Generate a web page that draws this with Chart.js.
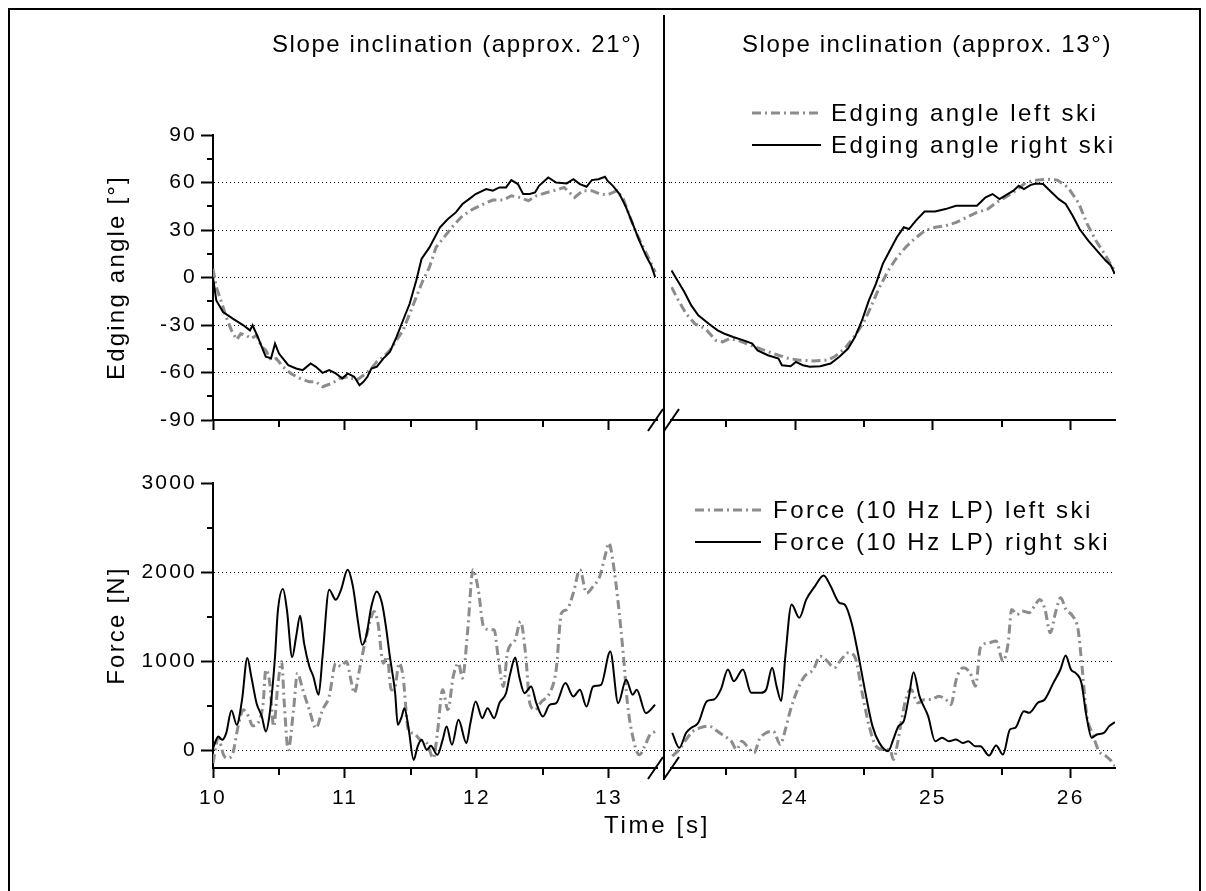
<!DOCTYPE html>
<html><head><meta charset="utf-8">
<script src="https://cdn.jsdelivr.net/npm/chart.js@4.4.1/dist/chart.umd.min.js"></script>
<style>
html,body{margin:0;padding:0;background:#fff;}
body{width:1206px;height:891px;position:relative;overflow:hidden;font-family:"Liberation Sans",Arial,sans-serif;}
.frame{position:absolute;left:8px;top:8px;width:1193px;height:900px;border:2px solid #000;box-sizing:border-box;}
.box{position:absolute;}
.txt{position:absolute;white-space:nowrap;font-size:24px;line-height:28px;color:#000;}
.leg{position:absolute;height:28px;}
.leg svg{position:absolute;left:0;top:0;}
.leg span{position:absolute;top:0;white-space:nowrap;font-size:24px;line-height:28px;letter-spacing:2.5px;color:#000;}
</style></head><body>
<div class="frame"></div>
<div class="box" style="left:0;top:0;width:700px;height:440px"><canvas id="cTL"></canvas></div>
<div class="box" style="left:0;top:440px;width:700px;height:400px"><canvas id="cBL"></canvas></div>
<div class="box" style="left:664px;top:0;width:542px;height:440px"><canvas id="cTR"></canvas></div>
<div class="box" style="left:664px;top:440px;width:542px;height:400px"><canvas id="cBR"></canvas></div>
<div id="annot"></div>
<script>
// ---------- ticks / categories ----------
const xMajorLeft = [10, 11, 12, 13];
const xMinorLeft = [10.5, 11.5, 12.5];
const xMajorRight = [24, 25, 26];
const xMinorRight = [23.5, 24.5, 25.5];
const xRangeLeft = [10, 13.364];
const xRangeRight = [23.10, 26.322];
const angleTicks = [-90, -60, -30, 0, 30, 60, 90];
const angleMinor = [-75, -45, -15, 15, 45, 75];
const angleGrid = [-60, -30, 0, 30, 60];
const angleRange = [-90, 90];
const forceTicks = [0, 1000, 2000, 3000];
const forceMinor = [500, 1500, 2500];
const forceGrid = [0, 1000, 2000];
const forceRange = [-200, 3000];

const panelTitles = ['Slope inclination (approx. 21°)', 'Slope inclination (approx. 13°)'];
const angleLabels = ['Edging angle left ski', 'Edging angle right ski'];
const forceLabels = ['Force (10 Hz LP) left ski', 'Force (10 Hz LP) right ski'];
const axisTitles = ['Edging angle [°]', 'Force [N]', 'Time [s]'];

// ---------- series: [time s, value] ----------
const angleLeftSeg1 = [[10.0,5.5],[10.025,-6],[10.06,-14.5],[10.10,-25],[10.14,-33.4],[10.18,-39.2],[10.21,-35.5],[10.25,-36.5],[10.29,-38.6],[10.33,-36.5],[10.37,-43.9],[10.40,-46],[10.44,-52.2],[10.48,-51.2],[10.53,-56.4],[10.59,-60.6],[10.66,-63.8],[10.73,-65.9],[10.78,-65.9],[10.83,-69],[10.90,-66.9],[10.96,-63.8],[11.02,-62.7],[11.09,-64.8],[11.14,-61.7],[11.19,-58.5],[11.24,-53.3],[11.29,-50.1],[11.34,-46],[11.39,-39.7],[11.44,-33.4],[11.49,-22.9],[11.54,-12.4],[11.59,-1.9],[11.64,6.5],[11.69,19.1],[11.74,24.3],[11.82,32.7],[11.89,39],[11.97,43.2],[12.05,46.4],[12.12,48.9],[12.20,48.9],[12.26,51.6],[12.32,50.6],[12.39,48.5],[12.45,51.6],[12.53,53.7],[12.60,55.2],[12.66,56.9],[12.74,50.6],[12.80,54.8],[12.87,54.8],[12.93,52.7],[12.99,52.2],[13.06,54.8],[13.11,49.5],[13.16,38],[13.21,27.5],[13.26,19.1],[13.31,10.7],[13.35,3.4]];
const angleRightSeg1 = [[10.00,0],[10.025,-14.5],[10.076,-21.8],[10.15,-26],[10.23,-30.2],[10.28,-33.4],[10.30,-30.2],[10.34,-37.6],[10.38,-46],[10.40,-50],[10.44,-51],[10.47,-41.8],[10.50,-48],[10.57,-55.4],[10.63,-57.5],[10.68,-58.5],[10.74,-54.3],[10.78,-56.4],[10.83,-60.2],[10.88,-58.5],[10.93,-60.6],[10.98,-63.8],[11.02,-60.6],[11.07,-62.7],[11.11,-68],[11.14,-65.9],[11.17,-62.7],[11.20,-57.5],[11.24,-56.4],[11.29,-51.2],[11.34,-47],[11.39,-37.6],[11.44,-27],[11.49,-16.6],[11.54,-1.9],[11.58,11.7],[11.64,19],[11.72,31.7],[11.78,36.9],[11.84,41.1],[11.89,46.4],[11.94,49.5],[11.99,52.7],[12.07,55.8],[12.12,54.8],[12.17,56.9],[12.22,56.9],[12.26,61.5],[12.31,59],[12.35,52.7],[12.40,52.7],[12.44,53.7],[12.47,57.9],[12.54,63.2],[12.60,60],[12.68,59.4],[12.73,62.1],[12.78,59],[12.83,57.3],[12.87,61.5],[12.92,62.1],[12.97,63.6],[12.99,61],[13.03,57.9],[13.08,52.7],[13.13,44.3],[13.18,33.8],[13.23,23.3],[13.28,13.8],[13.32,7.6],[13.35,0.2]];
const angleLeftSeg2 = [[23.104,-6.1],[23.147,-13.4],[23.210,-22.9],[23.273,-29.2],[23.349,-32.3],[23.425,-39.7],[23.475,-40.7],[23.526,-38.6],[23.589,-39.7],[23.678,-42.8],[23.779,-46],[23.880,-49.1],[23.956,-51.2],[24.032,-52.2],[24.133,-52.7],[24.234,-52.2],[24.285,-50.1],[24.361,-44.9],[24.436,-36.5],[24.500,-28.1],[24.55,-18.7],[24.613,-6.1],[24.677,4.4],[24.74,12.8],[24.803,19.1],[24.866,24.3],[24.942,29.6],[25.018,31.7],[25.094,32.7],[25.17,34.8],[25.246,38],[25.32,41.1],[25.398,43.2],[25.461,47.4],[25.525,50.6],[25.6,54.8],[25.676,60],[25.752,61.5],[25.828,62.1],[25.904,61.5],[25.98,56.9],[26.056,47.4],[26.12,33.8],[26.183,23.3],[26.246,14.9],[26.31,5.5],[26.32,2.3]];
const angleRightSeg2 = [[23.104,4.4],[23.147,-1.9],[23.197,-9.2],[23.247,-17.6],[23.298,-23.9],[23.374,-29.2],[23.438,-33.4],[23.488,-35.5],[23.551,-37.6],[23.627,-39.7],[23.690,-41.8],[23.728,-46],[23.803,-49.1],[23.880,-51.2],[23.905,-55.4],[23.968,-56],[24.006,-53.3],[24.057,-55.4],[24.107,-56.4],[24.183,-56],[24.258,-54.3],[24.322,-50.1],[24.385,-44.9],[24.435,-37.6],[24.486,-27.1],[24.536,-14.5],[24.587,-4],[24.637,8.6],[24.688,17],[24.739,25.4],[24.789,31.7],[24.827,30.6],[24.877,35.9],[24.940,41.7],[25.016,41.7],[25.092,43.2],[25.168,45.3],[25.244,45.3],[25.32,45.3],[25.383,50.6],[25.433,52.7],[25.484,49.5],[25.534,52.2],[25.585,54.8],[25.623,57.9],[25.661,55.8],[25.711,58.5],[25.749,59.4],[25.8,59],[25.85,54.8],[25.914,49.5],[25.964,46.4],[26.015,39],[26.065,30.6],[26.128,23.3],[26.191,17],[26.254,10.7],[26.292,7.6],[26.32,2.3]];

const forceLeftSeg1 = [[10.0,-146],[10.04,135],[10.08,-52],[10.11,-90],[10.15,-34],[10.19,266],[10.23,453],[10.27,378],[10.30,273],[10.34,303],[10.38,528],[10.40,903],[10.43,753],[10.46,266],[10.49,715],[10.52,996],[10.54,528],[10.57,4],[10.61,453],[10.64,865],[10.68,678],[10.73,453],[10.78,247],[10.83,453],[10.88,603],[10.93,977],[10.97,940],[11.01,996],[11.05,753],[11.07,640],[11.11,903],[11.15,1202],[11.19,1446],[11.22,1558],[11.25,1427],[11.29,977],[11.32,1052],[11.35,678],[11.38,715],[11.41,977],[11.44,828],[11.48,228],[11.52,191],[11.57,116],[11.62,79],[11.67,-90],[11.70,191],[11.74,678],[11.78,453],[11.82,828],[11.86,977],[11.89,809],[11.93,1352],[11.97,2026],[12.01,1801],[12.05,1389],[12.10,1352],[12.13,1352],[12.16,1052],[12.20,715],[12.23,1090],[12.29,1240],[12.33,1446],[12.37,1052],[12.40,528],[12.44,453],[12.49,547],[12.55,640],[12.60,903],[12.64,1539],[12.68,1577],[12.73,1764],[12.78,2026],[12.83,1764],[12.88,1839],[12.93,1951],[12.97,2176],[13.00,2326],[13.03,2120],[13.07,1652],[13.11,1052],[13.14,528],[13.18,154],[13.23,-52],[13.27,41],[13.31,172],[13.35,210]];
const forceRightSeg1 = [[10.0,22],[10.04,154],[10.07,116],[10.10,191],[10.14,446],[10.18,285],[10.22,565],[10.26,1034],[10.29,828],[10.33,528],[10.37,378],[10.40,210],[10.43,416],[10.47,1052],[10.49,1539],[10.53,1809],[10.56,1577],[10.60,1045],[10.63,1277],[10.66,1509],[10.69,1202],[10.73,940],[10.76,828],[10.80,622],[10.83,1052],[10.88,1801],[10.93,1689],[10.97,1801],[11.02,2026],[11.06,1839],[11.10,1427],[11.13,1183],[11.16,1277],[11.20,1614],[11.24,1783],[11.28,1652],[11.31,1389],[11.34,1052],[11.38,640],[11.40,285],[11.43,378],[11.45,472],[11.48,266],[11.52,-109],[11.55,41],[11.58,116],[11.62,4],[11.65,49],[11.70,-52],[11.74,116],[11.77,266],[11.81,60],[11.86,341],[11.92,79],[11.95,303],[11.99,547],[12.04,360],[12.08,472],[12.13,360],[12.17,528],[12.22,640],[12.25,846],[12.29,1041],[12.32,828],[12.36,640],[12.41,715],[12.45,528],[12.50,378],[12.55,509],[12.60,528],[12.67,753],[12.73,603],[12.78,678],[12.83,491],[12.88,715],[12.94,734],[13.01,1109],[13.07,528],[13.13,790],[13.18,622],[13.21,678],[13.28,416],[13.35,509]];
const forceLeftSeg2 = [[23.109,-67],[23.16,7],[23.21,120],[23.26,213],[23.311,251],[23.374,270],[23.437,213],[23.488,157],[23.538,101],[23.576,7],[23.614,101],[23.652,45],[23.703,-30],[23.741,120],[23.791,195],[23.842,213],[23.893,64],[23.93,232],[23.968,457],[24.019,682],[24.07,831],[24.133,906],[24.183,1056],[24.234,1000],[24.285,925],[24.335,1019],[24.386,1094],[24.437,1037],[24.487,644],[24.538,270],[24.588,45],[24.639,7],[24.689,7],[24.714,-105],[24.74,45],[24.77,307],[24.803,569],[24.841,682],[24.891,532],[24.942,569],[24.993,569],[25.043,607],[25.094,569],[25.132,513],[25.17,794],[25.22,925],[25.27,869],[25.31,719],[25.345,1150],[25.408,1206],[25.459,1225],[25.509,1000],[25.547,1206],[25.572,1580],[25.611,1524],[25.649,1562],[25.7,1543],[25.738,1618],[25.776,1693],[25.814,1580],[25.852,1318],[25.89,1543],[25.928,1711],[25.966,1580],[26.016,1505],[26.054,1356],[26.08,981],[26.118,382],[26.156,195],[26.206,-11],[26.257,-67],[26.307,-142],[26.322,-180]];
const forceRightSeg2 = [[23.109,195],[23.16,26],[23.21,195],[23.247,251],[23.298,307],[23.361,551],[23.412,569],[23.462,682],[23.513,906],[23.556,775],[23.622,906],[23.682,644],[23.753,644],[23.791,682],[23.834,925],[23.866,719],[23.9,551],[23.93,1056],[23.975,1637],[24.031,1487],[24.082,1693],[24.145,1843],[24.208,1962],[24.258,1843],[24.322,1655],[24.359,1637],[24.41,1431],[24.461,1056],[24.511,644],[24.562,270],[24.612,82],[24.676,-11],[24.713,120],[24.751,270],[24.789,326],[24.827,607],[24.86,876],[24.903,607],[24.966,382],[25.017,101],[25.067,139],[25.118,101],[25.168,120],[25.219,82],[25.257,101],[25.307,45],[25.345,45],[25.408,-60],[25.459,52],[25.509,-49],[25.56,232],[25.598,251],[25.661,438],[25.699,419],[25.762,532],[25.812,569],[25.875,756],[25.926,906],[25.964,1064],[26.002,906],[26.04,861],[26.078,756],[26.115,382],[26.153,139],[26.191,176],[26.242,195],[26.28,270],[26.322,315]];

// ---------- styles ----------
const GRAY = '#8c8c8c';
const DASH = [9, 4, 2, 4];
const FONT = "'Liberation Sans', Arial, sans-serif";
Chart.defaults.font.family = FONT;
Chart.defaults.font.size = 21;
Chart.defaults.color = '#000';

const toXY = arr => arr.map(p => ({x: p[0], y: p[1]}));

const spacingPlugin = {
  id: 'spacing',
  beforeDraw(chart) { chart.ctx.letterSpacing = '2.2px'; },
  afterDatasetsDraw(chart) { chart.ctx.letterSpacing = '1.8px'; }
};

const decorPlugin = {
  id: 'decor',
  afterDraw(chart, args, o) {
    const ctx = chart.ctx, a = chart.chartArea, xs = chart.scales.x, ys = chart.scales.y;
    ctx.save();
    ctx.strokeStyle = '#000';
    ctx.lineWidth = 2;
    ctx.setLineDash([]);
    (o.minorX || []).forEach(v => {
      const px = Math.round(xs.getPixelForValue(v));
      ctx.beginPath(); ctx.moveTo(px, a.bottom); ctx.lineTo(px, a.bottom + 7); ctx.stroke();
    });
    (o.minorY || []).forEach(v => {
      const py = Math.round(ys.getPixelForValue(v));
      ctx.beginPath(); ctx.moveTo(a.left, py); ctx.lineTo(a.left - 6, py); ctx.stroke();
    });
    if (o.breakMarks) {
      // continue dotted grid lines through the axis break
      ctx.lineWidth = 1;
      ctx.setLineDash([1, 3]);
      o.gridVals.forEach(v => {
        const py = Math.round(ys.getPixelForValue(v) - 0.5) + 0.5;
        ctx.beginPath(); ctx.moveTo(a.right, py); ctx.lineTo(a.right + 14, py); ctx.stroke();
      });
      ctx.setLineDash([]);
      ctx.lineWidth = 2;
      const dx = a.right + 7;
      ctx.beginPath(); ctx.moveTo(dx, o.divTop); ctx.lineTo(dx, o.divBottom); ctx.stroke();
      [a.right - 1.5, a.right + 14.5].forEach(cx => {
        ctx.beginPath(); ctx.moveTo(cx - 7.5, a.bottom + 11); ctx.lineTo(cx + 7.5, a.bottom - 11); ctx.stroke();
      });
    }
    ctx.restore();
  }
};

function makeChart(id, c) {
  const left = c.side === 'left';
  return new Chart(document.getElementById(id), {
    type: 'line',
    data: {
      datasets: [
        {label: c.labels[1], data: toXY(c.right), borderColor: '#000', borderWidth: 2, pointRadius: 0,
         tension: 0, cubicInterpolationMode: c.smooth ? 'monotone' : 'default', order: 0},
        {label: c.labels[0], data: toXY(c.left), borderColor: GRAY, borderWidth: 3, borderDash: DASH,
         borderCapStyle: 'butt', pointRadius: 0, tension: 0,
         cubicInterpolationMode: c.smooth ? 'monotone' : 'default', order: 1}
      ]
    },
    options: {
      responsive: true, maintainAspectRatio: false, animation: false, devicePixelRatio: 1,
      layout: {padding: c.padding},
      events: [],
      plugins: {
        legend: {display: false}, tooltip: {enabled: false},
        decor: c.decor
      },
      scales: {
        x: {
          type: 'linear', min: c.xRange[0], max: c.xRange[1],
          afterBuildTicks: s => { s.ticks = c.xTicks.map(v => ({value: v})); },
          afterFit: s => { s.height = c.xHeight; },
          ticks: {display: c.xLabels, padding: 8, callback: v => String(v), font: {size: 21}, maxRotation: 0, autoSkip: false},
          grid: {drawOnChartArea: false, tickLength: 10, tickWidth: 2, tickColor: '#000'},
          border: {display: true, color: '#000', width: 2}
        },
        y: {
          type: 'linear', min: c.yRange[0], max: c.yRange[1],
          afterBuildTicks: s => { s.ticks = c.yTicks.map(v => ({value: v})); },
          afterFit: s => { s.width = left ? 213 : 0; },
          ticks: {display: left, padding: 4, callback: v => String(v), font: {size: 21}},
          grid: {
            drawOnChartArea: true, drawTicks: left, tickLength: 12, tickWidth: 2, tickColor: '#000',
            lineWidth: 1, borderDash: [1, 3],
            color: ctx => (ctx.tick && c.gridVals.includes(ctx.tick.value)) ? '#000' : 'rgba(0,0,0,0)'
          },
          border: {display: left, color: '#000', width: 2, dash: [1, 3]},
          title: {display: left, text: c.yTitle, font: {size: 24}, padding: {top: 103, bottom: 0}, color: '#000'}
        }
      }
    },
    plugins: [spacingPlugin, decorPlugin]
  });
}

makeChart('cTL', {side: 'left', labels: angleLabels, left: angleLeftSeg1, right: angleRightSeg1, smooth: false,
  padding: {top: 135, left: 0, right: 43, bottom: 0}, xRange: xRangeLeft, xTicks: xMajorLeft, xHeight: 20, xLabels: false,
  yRange: angleRange, yTicks: angleTicks, gridVals: angleGrid, yTitle: axisTitles[0],
  decor: {minorX: xMinorLeft, minorY: angleMinor, breakMarks: true, gridVals: angleGrid, divTop: 15, divBottom: 440}});
makeChart('cBL', {side: 'left', labels: forceLabels, left: forceLeftSeg1, right: forceRightSeg1, smooth: true,
  padding: {top: 43, left: 0, right: 43, bottom: 0}, xRange: xRangeLeft, xTicks: xMajorLeft, xHeight: 72, xLabels: true,
  yRange: forceRange, yTicks: forceTicks, gridVals: forceGrid, yTitle: axisTitles[1],
  decor: {minorX: xMinorLeft, minorY: forceMinor, breakMarks: true, gridVals: forceGrid, divTop: 0, divBottom: 340}});
makeChart('cTR', {side: 'right', labels: angleLabels, left: angleLeftSeg2, right: angleRightSeg2, smooth: false,
  padding: {top: 135, left: 7, right: 91, bottom: 0}, xRange: xRangeRight, xTicks: xMajorRight, xHeight: 20, xLabels: false,
  yRange: angleRange, yTicks: angleTicks, gridVals: angleGrid, yTitle: '',
  decor: {minorX: xMinorRight}});
makeChart('cBR', {side: 'right', labels: forceLabels, left: forceLeftSeg2, right: forceRightSeg2, smooth: true,
  padding: {top: 43, left: 7, right: 91, bottom: 0}, xRange: xRangeRight, xTicks: xMajorRight, xHeight: 72, xLabels: true,
  yRange: forceRange, yTicks: forceTicks, gridVals: forceGrid, yTitle: '',
  decor: {minorX: xMinorRight}});

// ---------- annotations (titles, legends, x-axis title) ----------
const annot = document.getElementById('annot');
function addText(txt, style) {
  const d = document.createElement('div');
  d.className = 'txt'; d.textContent = txt; d.style.cssText += style; annot.appendChild(d);
}
addText(panelTitles[0], 'right:564px;top:30px;letter-spacing:1.6px;');
addText(panelTitles[1], 'left:742px;top:30px;letter-spacing:1.6px;');
addText(axisTitles[2], 'left:557px;width:200px;text-align:center;top:811px;letter-spacing:2.7px;');
function addLegend(x, cy, w, textX, label, gray) {
  const d = document.createElement('div');
  d.className = 'leg'; d.style.left = x + 'px'; d.style.top = (cy - 14) + 'px';
  const dash = gray ? ` stroke-dasharray="${DASH.join(' ')}"` : '';
  d.innerHTML = `<svg width="${w}" height="28"><line x1="0" y1="14" x2="${w}" y2="14" stroke="${gray ? GRAY : '#000'}" stroke-width="${gray ? 3 : 2}"${dash}/></svg><span style="left:${textX - x}px"></span>`;
  d.querySelector('span').textContent = label;
  annot.appendChild(d);
}
addLegend(752, 113, 69, 831, angleLabels[0], true);
addLegend(752, 145, 69, 831, angleLabels[1], false);
addLegend(695, 510, 66, 773, forceLabels[0], true);
addLegend(695, 542, 66, 773, forceLabels[1], false);
</script>
</body></html>
